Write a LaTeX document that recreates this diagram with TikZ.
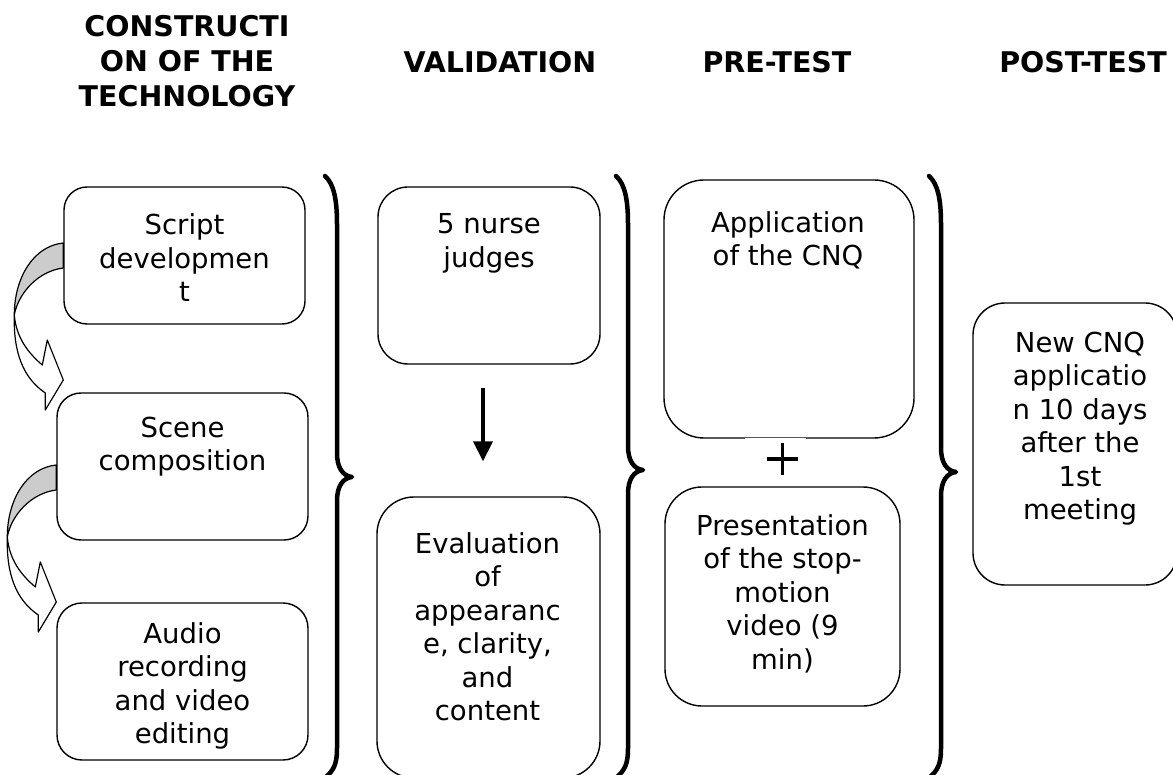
\documentclass[tikz,border=0pt]{standalone}
\usepackage{fontspec}
\setmainfont{DejaVu Sans}
\usetikzlibrary{arrows.meta,positioning}
\newcommand\bodyfont{\fontsize{27.5}{33.5}\selectfont}
\newcommand\headfont{\fontsize{28.5}{35}\selectfont\bfseries}
% curly bracket: x of the stem, y of the tip
\newcommand\vbrace[2]{%
  \draw[brc] ({#1-12},176) .. controls ({#1-3},184) and (#1,200) .. (#1,224)
    -- (#1,{#2-24}) .. controls (#1,{#2-9}) and ({#1+6},{#2-1}) .. ({#1+15},#2)
    .. controls ({#1+6},{#2+1}) and (#1,{#2+9}) .. (#1,{#2+24})
    -- (#1,748) .. controls (#1,764) and ({#1-3},770) .. ({#1-12},778);}
\tikzset{
  box/.style={draw=black, line width=1.4pt, fill=white, inner sep=0pt},
  txt/.style={font=\bodyfont, align=center, inner sep=0pt},
  head/.style={font=\headfont, align=center, inner sep=0pt},
  brc/.style={line width=4.5pt, line cap=round, line join=round},
  carr/.style={draw=black, line width=1.2pt, line join=round},
  darr/.style={-{Triangle[length=20pt,width=19pt]}, line width=4pt},
  pl/.style={line width=3pt},
  curvarr/.pic={
    \draw[carr, fill=black!20] (0,0) .. controls (-30,3) and (-49,35) .. (-49,72)
      .. controls (-45,50) and (-25,28) .. (0,25) -- cycle;
    \draw[carr, fill=white] (-49,72) .. controls (-50,110) and (-40,135) .. (-18,150)
      -- (-18,167) -- (0,137) -- (-16,97) -- (-21,122)
      .. controls (-35,110) and (-47,95) .. (-49,72) -- cycle;
  }
}
\begin{document}
\begin{tikzpicture}[x=1pt, y=-1pt]
\useasboundingbox (0,0) rectangle (1173,775);

% column titles
\node[head] (hcon) at (187,61.5) {CONSTRUCTI\\ON OF THE\\TECHNOLOGY};
\node[head] (hval) at (500,62) {VALIDATION};
\node[head] (hpre) at (777,62) {PRE-TEST};
\node[head] (hpost) at (1083,62) {POST-TEST};

% construction
\node[box, rounded corners=23pt, minimum width=241pt, minimum height=137pt] (script) at (184.5,255.5) {};
\node[box, rounded corners=24pt, minimum width=251pt, minimum height=147pt] (scene) at (182.5,466.5) {};
\node[box, rounded corners=25pt, minimum width=251pt, minimum height=157pt] (audio) at (182.5,681.5) {};
\node[txt] (scriptt) at (184.5,258) {Script\\developmen\\t};
\node[txt] (scenet) at (182.5,446.5) {Scene\\composition};
\node[txt] (audiot) at (182.5,686) {Audio\\recording\\and video\\editing};
\pic at ([yshift=12.5pt]script.west) {curvarr};
\pic at ([yshift=1.5pt]scene.west) {curvarr};

% validation
\node[box, rounded corners=30pt, minimum width=222pt, minimum height=177pt] (judges) at (489,275.5) {};
\node[box, rounded corners=37pt, minimum width=223pt, minimum height=281pt] (eval) at (488.5,637.5) {};
\node[txt] (judgest) at (489,243.5) {5 nurse\\judges};
\node[txt] (evalt) at (487.5,626.5) {Evaluation\\of\\appearanc\\e, clarity,\\and\\content};
\draw[darr, shorten <=23pt, shorten >=35pt] ([xshift=-6pt]judges.south) -- ([xshift=-5.5pt]eval.north);

% pre-test
\node[box, rounded corners=40pt, minimum width=250pt, minimum height=258pt] (appl) at (789,309) {};
\node[box, rounded corners=37pt, minimum width=235pt, minimum height=219pt] (pres) at (782.5,596.5) {};
\node[txt] (applt) at (788,240.5) {Application\\of the CNQ};
\node[txt] (prest) at (782.5,593.5) {Presentation\\of the stop-\\motion\\video (9\\min)};
\node[fill=white, inner sep=0pt, minimum width=61pt, minimum height=36pt] (plus) at (775.5,456) {};
\draw[pl] ([xshift=6.5pt,yshift=-3pt]plus.center) +(0,-15.5) -- +(0,15.5) +(-15.5,0) -- +(15.5,0);

% post-test
\node[box, rounded corners=32pt, minimum width=204pt, minimum height=282pt] (newcnq) at (1075,444) {};
\node[txt] (newcnqt) at (1080,428.5) {New CNQ\\applicatio\\n 10 days\\after the\\1st\\meeting};

% brackets
\vbrace{337}{477}
\vbrace{628}{470}
\vbrace{941}{472}

\end{tikzpicture}
\end{document}
